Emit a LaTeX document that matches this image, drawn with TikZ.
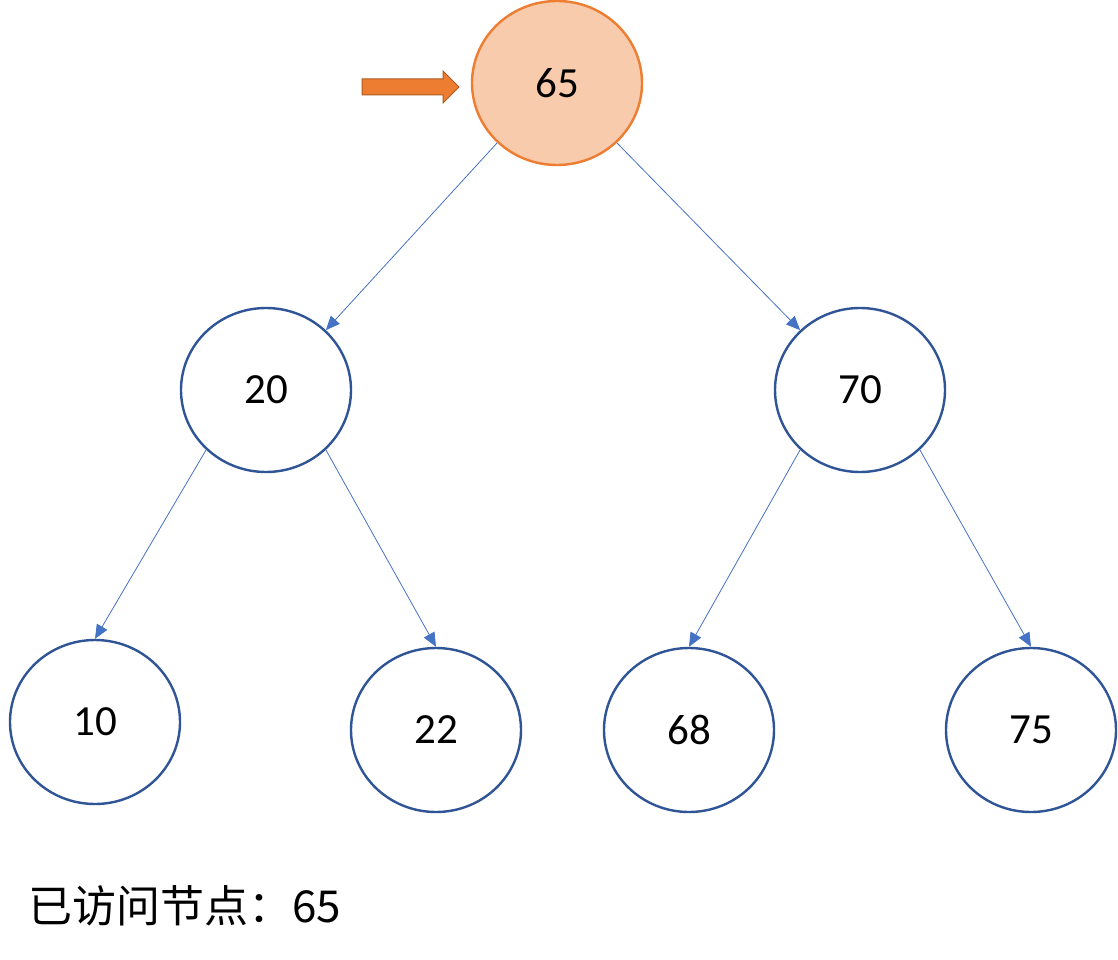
\documentclass[tikz,border=0pt]{standalone}
\usepackage{fontspec}
\setmainfont{Carlito}
\newfontfamily\cjk{Noto Sans CJK SC}
\usetikzlibrary{shapes.geometric,arrows.meta}
\definecolor{cnode}{HTML}{2F5597}
\definecolor{cedge}{HTML}{4472C4}
\definecolor{corange}{HTML}{ED7D31}
\definecolor{cpeach}{HTML}{F8CBAD}
\definecolor{cdark}{HTML}{AE5A21}

\begin{document}
\begin{tikzpicture}[x=1pt,y=-1pt,
  treenode/.style={draw=cnode,line width=2.4pt,ellipse,minimum width=170pt,
    minimum height=164pt,inner sep=0pt,font=\fontsize{43}{50}\selectfont},
  visited/.style={treenode,draw=corange,fill=cpeach},
  edge/.style={draw=cedge,line width=0.8pt,-{Triangle[length=14pt,width=12pt]}}]
  \useasboundingbox (0,0) rectangle (1118,960);
  % tree nodes
  \node[visited] (n65) at (557,83) {65};
  \node[treenode] (n20) at (266,390) {20};
  \node[treenode] (n70) at (860,390) {70};
  \node[treenode] (n10) at (95,722) {10};
  \node[treenode] (n22) at (436,730) {22};
  \node[treenode] (n68) at (689,730) {68};
  \node[treenode] (n75) at (1031,730) {75};
  % edges
  \draw[edge] (n65.-135) -- (n20.45);
  \draw[edge] (n65.-45) -- (n70.135);
  \draw[edge] (n20.-135) -- (n10.north);
  \draw[edge] (n20.-45) -- (n22.north);
  \draw[edge] (n70.-135) -- (n68.north);
  \draw[edge] (n70.-45) -- (n75.north);
  % pointer to current node
  \coordinate (tip) at (459,87);
  \draw[fill=corange,draw=cdark,line width=1pt]
    (362,79) -- (443,79) -- (443,71) -- (tip) -- (443,103) -- (443,95)
    -- (362,95) -- cycle;
  % visited list
  \node[anchor=west,inner sep=0pt,font=\cjk\fontsize{44}{52}\selectfont]
    (visit) at (28,906) {已访问节点：65};
\end{tikzpicture}
\end{document}
